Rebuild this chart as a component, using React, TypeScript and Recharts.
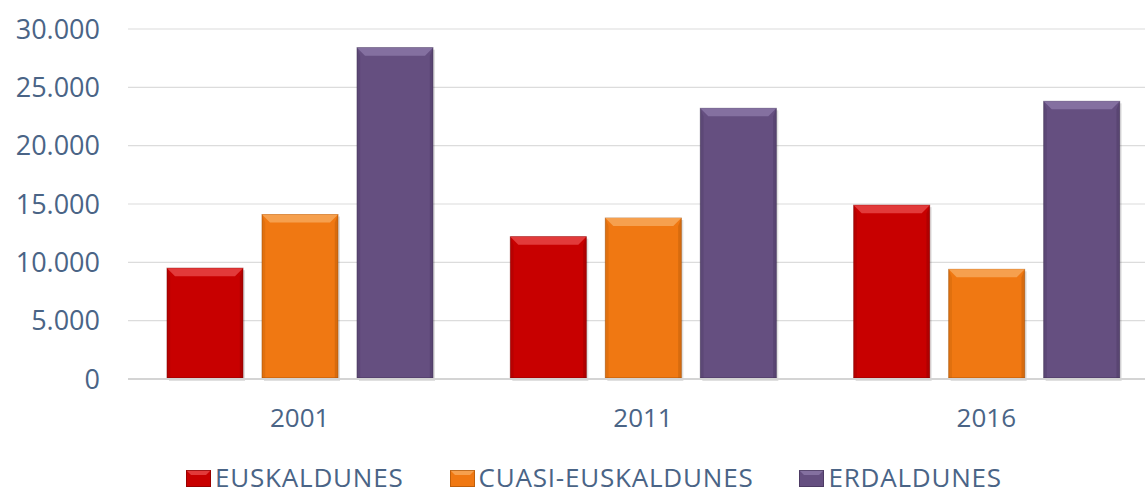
import React from 'react';
import { BarChart, Bar, XAxis, YAxis, CartesianGrid, Legend } from 'recharts';

const years = ['2001', '2011', '2016'];
const euskaldunes = [9500, 12200, 14900];
const cuasiEuskaldunes = [14100, 13800, 9400];
const erdaldunes = [28400, 23200, 23800];
const yTicks = [0, 5000, 10000, 15000, 20000, 25000, 30000];

const data = years.map((year, i) => ({
  year,
  euskaldunes: euskaldunes[i],
  cuasi: cuasiEuskaldunes[i],
  erdaldunes: erdaldunes[i],
}));

const seriesDefs = [
  { key: 'euskaldunes', name: 'EUSKALDUNES', color: '#C80000', light: '#E23A3A', dark: '#7A0000' },
  { key: 'cuasi', name: 'CUASI-EUSKALDUNES', color: '#F07812', light: '#F6A04E', dark: '#A04E05' },
  { key: 'erdaldunes', name: 'ERDALDUNES', color: '#654F80', light: '#8470A0', dark: '#3E2F52' },
];

const textColor = '#4A6486';
const fontFamily = '"Open Sans", sans-serif';

const fmt = (v: number) => v.toLocaleString('de-DE');

function BevelBar(props: any) {
  const { x, y, width, height, fill, light, dark } = props;
  if (!height || height <= 0) return null;
  const b = 8;
  return (
    <g>
      <rect x={x + 2} y={y + 2} width={width} height={height} fill="rgba(0,0,0,0.12)" />
      <rect x={x} y={y} width={width} height={height} fill={fill} stroke={dark} strokeOpacity={0.55} strokeWidth={1} />
      <polygon
        points={`${x},${y} ${x + width},${y} ${x + width - b},${y + b} ${x + b},${y + b}`}
        fill={light}
      />
      <polygon
        points={`${x},${y} ${x + b * 0.4},${y + b} ${x + b * 0.4},${y + height} ${x},${y + height}`}
        fill={dark}
        fillOpacity={0.2}
      />
      <polygon
        points={`${x + width},${y} ${x + width - b * 0.4},${y + b} ${x + width - b * 0.4},${y + height} ${x + width},${y + height}`}
        fill={dark}
        fillOpacity={0.3}
      />
      <rect x={x} y={y + height - 2} width={width} height={2} fill={dark} fillOpacity={0.35} />
    </g>
  );
}

// legend marker: small bevelled block like the bars
function LegendSwatch({ s }: { s: (typeof seriesDefs)[number] }) {
  return (
    <svg width={25} height={17} style={{ marginRight: 4, marginTop: 11, flexShrink: 0 }}>
      <rect x={0} y={0} width={25} height={17} fill={s.color} />
      <polygon points="0,0 25,0 20,5 5,5" fill={s.light} />
      <rect x={0.5} y={0.5} width={24} height={16} fill="none" stroke={s.dark} strokeOpacity={0.6} />
    </svg>
  );
}

function renderLegend() {
  return (
    <div
      style={{
        height: 56,
        display: 'flex',
        alignItems: 'flex-start',
        paddingTop: 20,
        boxSizing: 'border-box',
        paddingLeft: 186,
        fontFamily,
        fontSize: 26,
        letterSpacing: 0.8,
        color: textColor,
      }}
    >
      {seriesDefs.map((s) => (
        <div key={s.key} style={{ display: 'flex', alignItems: 'flex-start', marginRight: 46, whiteSpace: 'nowrap' }}>
          <LegendSwatch s={s} />
          <span>{s.name}</span>
        </div>
      ))}
    </div>
  );
}

export default function App() {
  return (
    <div
      style={{
        position: 'fixed',
        left: 0,
        top: 0,
        width: 1145,
        height: 495,
        overflow: 'hidden',
        background: '#fff',
      }}
    >
      <BarChart
        width={1160}
        height={495}
        data={data}
        margin={{ top: 29, right: 2, left: 0, bottom: 0 }}
        barSize={76}
        barGap={19}
      >
        <CartesianGrid vertical={false} stroke="#DCDCDC" strokeWidth={1.2} />
        <XAxis
          dataKey="year"
          height={60}
          tickLine={false}
          axisLine={{ stroke: '#D4D4D4', strokeWidth: 2 }}
          tickMargin={24}
          tick={{ fill: textColor, fontSize: 26, fontFamily }}
        />
        <YAxis
          width={128}
          domain={[0, 30000]}
          ticks={yTicks}
          tickFormatter={fmt}
          tickLine={false}
          axisLine={false}
          tickMargin={22}
          tick={{ fill: textColor, fontSize: 27, fontFamily }}
        />
        <Legend verticalAlign="bottom" content={renderLegend} wrapperStyle={{ left: 0, width: 1160 }} />
        {seriesDefs.map((s) => (
          <Bar
            key={s.key}
            dataKey={s.key}
            name={s.name}
            fill={s.color}
            isAnimationActive={false}
            shape={(p: any) => <BevelBar {...p} light={s.light} dark={s.dark} />}
          />
        ))}
      </BarChart>
    </div>
  );
}
